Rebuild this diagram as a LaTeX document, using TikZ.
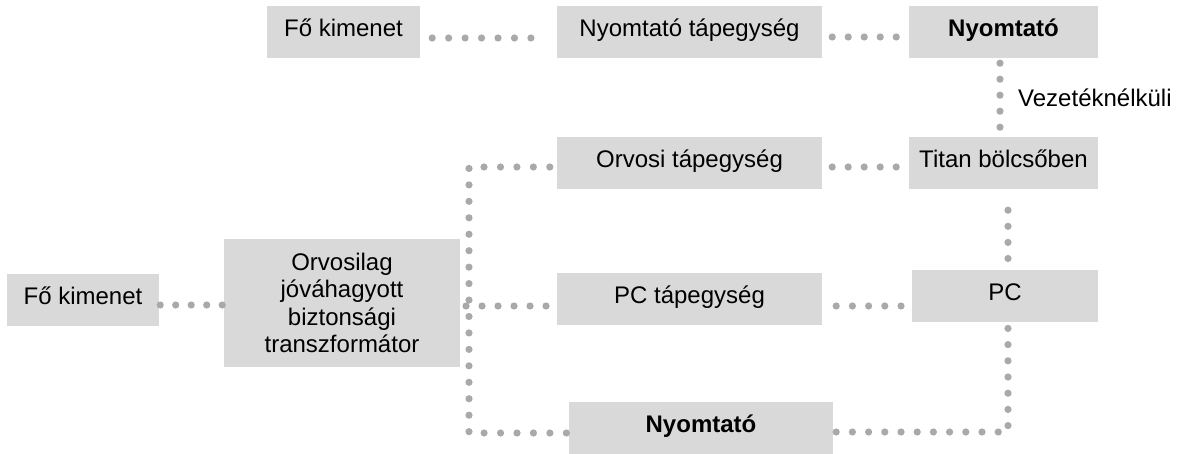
\documentclass[tikz,border=0pt]{standalone}
\usepackage{fontspec}
\setmainfont{Liberation Sans}
\usetikzlibrary{calc}
\definecolor{boxgray}{HTML}{D9D9D9}
\definecolor{dotgray}{HTML}{A9A9A9}
\tikzset{
  box/.style={fill=boxgray, draw=none, inner sep=0pt, minimum height=52pt,
    text height=15pt, text depth=6pt, font=\fontsize{24}{27.3}\selectfont},
  dotline/.style={draw=dotgray, line width=7.2pt, line cap=round,
    dash pattern=on 0pt off #1},
  dotline/.default=16.4pt,
  lbl/.style={inner sep=0pt, anchor=west, font=\fontsize{24}{27.3}\selectfont}
}
\begin{document}
\begin{tikzpicture}[x=1pt,y=-1pt]
\useasboundingbox (0,0) rectangle (1181,454);
% nodes
\node[box, minimum width=153pt] (foA) at (343.5,32) {Fő kimenet};
\node[box, minimum width=265pt] (nyt) at (689.5,32) {Nyomtató tápegység};
\node[box, minimum width=189pt] (ny1) at (1003.5,32) {\textbf{Nyomtató}};
\node[box, minimum width=265pt] (orvt) at (689.5,163) {Orvosi tápegység};
\node[box, minimum width=189pt] (titan) at (1003.5,163) {Titan bölcsőben};
\node[box, minimum width=152pt] (foB) at (83,300.5) {Fő kimenet};
\node[fill=boxgray, inner sep=0pt, minimum width=236pt, minimum height=128pt,
  align=center, font=\fontsize{24}{27.3}\selectfont] (orv) at (342,303)
  {Orvosilag\\jóváhagyott\\biztonsági\\transzformátor};
\node[box, minimum width=265pt] (pct) at (689.5,299) {PC tápegység};
\node[box, minimum width=186pt] (pc) at (1005,296.5) {PC};
\node[box, minimum width=264pt] (ny2) at (701,428) {\textbf{Nyomtató}};
\node[lbl] (wl) at (1018,98) {Vezetéknélküli};
% helper coordinates
\coordinate (b1) at (469,167);
\coordinate (b2) at (469,433);
\coordinate (b3) at (466,306);
\coordinate (c1) at (1008,432);
% connectors
\draw[dotline=16.45pt] ($(foA.east)+(12,6)$) -- ($(nyt.west)+(-25,6)$);
\draw[dotline=16.0pt] ($(nyt.east)+(10,5)$) -- ($(ny1.west)+(-12,5)$);
\draw[dotline=16.0pt] ($(ny1.south)+(-3.5,5)$) -- ($(titan.north)+(-3.5,-9)$);
\draw[dotline=16.0pt] ($(orvt.east)+(10,4)$) -- ($(titan.west)+(-12,4)$);
\draw[dotline=16.45pt] ($(orvt.west)+(-7,4)$) -- (b1) -- (b2) -- ($(ny2.west)+(-1,5)$);
\draw[dotline=16.0pt] (b3) -- ($(pct.west)+(-10,7)$);
\draw[dotline=15.5pt] ($(foB.east)+(1,4.5)$) -- ($(orv.west)+(-1,2)$);
\draw[dotline=16.2pt] ($(pct.east)+(14,7)$) -- ($(pc.west)+(-10,9.5)$);
\draw[dotline=16.1pt] ($(titan.south)+(4.5,21)$) -- ($(pc.north)+(3,-11)$);
\draw[dotline=16.2pt] ($(ny2.east)+(3,4)$) -- (c1) -- ($(pc.south)+(3,4)$);
\end{tikzpicture}
\end{document}
